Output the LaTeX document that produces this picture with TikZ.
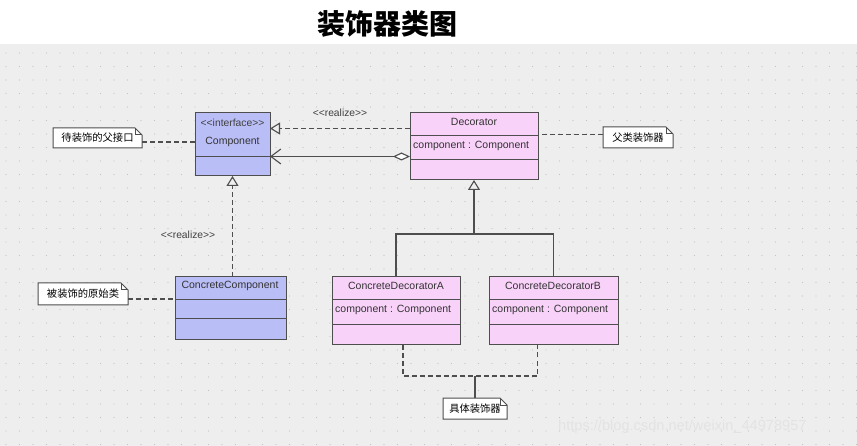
\documentclass[tikz,border=0pt]{standalone}
\usepackage{fontspec}
\newfontfamily\umlfont{Liberation Sans}
\newfontfamily\cjk{Noto Sans CJK SC}
\usetikzlibrary{arrows.meta,backgrounds,positioning}

\definecolor{bggrey}{RGB}{238,238,238}
\definecolor{dotgrey}{RGB}{196,196,196}
\definecolor{linegrey}{RGB}{78,78,78}
\definecolor{compblue}{RGB}{186,190,246}
\definecolor{decpink}{RGB}{249,210,250}

\tikzset{
	classbox/.style={draw=linegrey, line width=1pt, anchor=north west, inner sep=0pt, outer sep=0pt},
	classtxt/.style={font=\umlfont\fontsize{10.5}{12}\selectfont, text=black!80, inner sep=0pt},
	stereo/.style={font=\umlfont\fontsize{10.3}{12}\selectfont, text=black!75, inner sep=0pt},
	notetxt/.style={font=\cjk\fontsize{10.3}{12}\selectfont, anchor=north west, inner sep=0pt, outer sep=0pt},
	noteline/.style={draw=linegrey, line width=1pt, fill=white},
	divline/.style={draw=linegrey, line width=1pt},
	dashline/.style={draw=linegrey, line width=1.1pt, dash pattern=on 5pt off 3pt},
	realize/.style={dashline, -{Triangle[open,length=10pt,width=12pt]}},
	inherit/.style={draw=linegrey, line width=1.1pt, -{Triangle[open,length=10pt,width=12pt]}},
	assoc/.style={draw=linegrey, line width=1.1pt, {Diamond[fill=white,length=17pt,width=8pt]}-{Straight Barb[length=10pt,width=15pt]}}
}

\begin{document}
\begin{tikzpicture}[x=1pt, y=-1pt]
	\useasboundingbox (0,0) rectangle (857,446);

	\node[font=\cjk\bfseries\fontsize{28}{30}\selectfont] (title) at (387,24) {装饰器类图};

	\node[classbox, fill=compblue, minimum width=75pt, minimum height=63pt] (comp) at (195,113) {};
	\node[classbox, fill=decpink, minimum width=128pt, minimum height=67pt] (dec) at (410,113) {};
	\node[classbox, fill=compblue, minimum width=111pt, minimum height=63pt] (cc) at (175,277) {};
	\node[classbox, fill=decpink, minimum width=128pt, minimum height=68pt] (cdA) at (332,277) {};
	\node[classbox, fill=decpink, minimum width=129pt, minimum height=68pt] (cdB) at (489,277) {};

	\foreach \b/\y in {comp/157, dec/136, dec/160, cc/300, cc/319, cdA/300, cdA/325, cdB/300, cdB/325}
		\draw[divline] (\b.west |- 0,\y) -- (\b.east |- 0,\y);

	\node[stereo] (compst) at (232.5,123) {<<interface>>};
	\node[classtxt] (comptitle) at (232.5,142) {Component};
	\node[classtxt] (dectitle) at (474,122) {Decorator};
	\node[classtxt, anchor=west] (decattr) at (413,146) {component : Component};
	\node[classtxt] (cctitle) at (230,286) {ConcreteComponent};
	\node[classtxt] (cdAtitle) at (396,286) {ConcreteDecoratorA};
	\node[classtxt, anchor=west] (cdAattr) at (335,310) {component : Component};
	\node[classtxt] (cdBtitle) at (553,286) {ConcreteDecoratorB};
	\node[classtxt, anchor=west] (cdBattr) at (492,310) {component : Component};

	\node[notetxt, minimum width=89pt, minimum height=20pt] (nA) at (53,128) {待装饰的父接口};
	\node[notetxt, minimum width=70pt, minimum height=21pt] (nB) at (603,127) {父类装饰器};
	\node[notetxt, minimum width=90pt, minimum height=22pt] (nC) at (38,283) {被装饰的原始类};
	\node[notetxt, minimum width=64pt, minimum height=21pt] (nD) at (443,398) {具体装饰器};

	\node[stereo] (rzA) at (340,113) {<<realize>>};
	\node[stereo] (rzB) at (188,235) {<<realize>>};

	\draw[realize] ([yshift=18pt]dec.west) -- ([yshift=18pt]dec.west -| comp.east);
	\draw[assoc] ([yshift=-10pt]dec.west) -- ([yshift=-10pt]dec.west -| comp.east);
	\draw[realize] (cc.north -| comptitle) -- (comp.south -| comptitle);

	\coordinate (fork) at (474,234);
	\draw[divline, line width=1.1pt] (cdA.north) |- (fork) -| (cdB.north);
	\draw[inherit] (fork) -- (dec.south);

	\draw[dashline] ([yshift=-4pt]nA.east) -- ([yshift=-4pt]nA.east -| comp.west);
	\draw[dashline] ([yshift=3pt]nB.west) -- ([yshift=3pt]nB.west -| dec.east);
	\draw[dashline] ([yshift=-5pt]nC.east) -- ([yshift=-5pt]nC.east -| cc.west);

	\coordinate (brk) at (475,376);
	\draw[dashline] ([xshift=7pt]cdA.south) |- (brk) -| ([xshift=-16pt]cdB.south);
	\draw[divline, line width=1.1pt] (nD.north) -- (brk);

	\node[font=\umlfont\fontsize{14.6}{16}\selectfont, text=white!78!gray, anchor=west, inner sep=0pt] (wm) at (558,427) {https://blog.csdn.net/weixin\_44978957};

	\begin{scope}[on background layer]
		\fill[white] (0,0) rectangle (857,44);
		\fill[bggrey] (0,44) rectangle (857,446);
		\foreach \i in {0,...,63}
			\foreach \j in {0,...,29}
				\fill[dotgrey] (6+\i*13.5, 53+\j*13.5) circle (0.6);
		\foreach \n in {nA,nB,nC,nD} {
			\filldraw[noteline] (\n.north west) -- ([xshift=-7pt]\n.north east) -- ([yshift=-7pt]\n.north east) -- (\n.south east) -- (\n.south west) -- cycle;
			\draw[noteline, fill=none] ([xshift=-7pt]\n.north east) |- ([yshift=-7pt]\n.north east);
		}
	\end{scope}
\end{tikzpicture}
\end{document}
